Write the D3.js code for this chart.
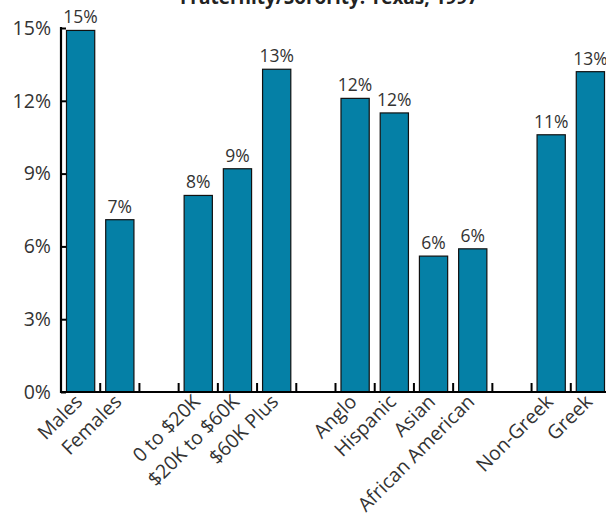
<!DOCTYPE html>
<html>
<head>
<meta charset="utf-8">
<script src="https://cdn.jsdelivr.net/npm/d3@7/dist/d3.min.js"></script>
<style>
  html, body { margin: 0; padding: 0; background: #fff; }
  svg { display: block; }
  text { font-family: "Open Sans", Lato, sans-serif; }
</style>
</head>
<body>
<svg id="chart" width="606" height="519"></svg>
<script>
const title = "Fraternity/Sorority: Texas, 1997";
// Categories in display order; "" marks an empty slot between groups
const categories = ["Males", "Females", "", "0 to $20K", "$20K to $60K", "$60K Plus", "",
  "Anglo", "Hispanic", "Asian", "African American", "", "Non-Greek", "Greek"];
const values = [14.9, 7.1, null, 8.1, 9.2, 13.3, null, 12.1, 11.5, 5.6, 5.9, null, 10.6, 13.2];
const yTicks = [0, 3, 6, 9, 12, 15];

const svg = d3.select("#chart");
const x0 = 61, x1 = 610, yBase = 392, yTop = 28;
const FONT = "'Open Sans', Lato, sans-serif";

const slots = categories.map((c, i) => i);
const x = d3.scaleBand().domain(slots).range([x0, x1]).paddingInner(0.28).paddingOuter(0.14);
const y = d3.scaleLinear().domain([0, 15]).range([yBase, yTop]);

// Title (partially cut off at top as in reference)
svg.append("text")
  .attr("x", 329).attr("y", 4)
  .attr("text-anchor", "middle")
  .attr("font-size", 19).attr("font-weight", "bold")
  .attr("fill", "#222")
  .text(title);

// Bars
const data = categories.map((c, i) => ({ c, i, v: values[i] })).filter(d => d.v != null);
svg.append("g").selectAll("rect").data(data).join("rect")
  .attr("x", d => x(d.i))
  .attr("y", d => y(d.v))
  .attr("width", x.bandwidth())
  .attr("height", d => y(0) - y(d.v))
  .attr("fill", "#0580a6")
  .attr("stroke", "#111")
  .attr("stroke-width", 1.2);

// Value labels
svg.append("g").selectAll("text").data(data).join("text")
  .attr("x", d => x(d.i) + x.bandwidth() / 2)
  .attr("y", d => y(d.v) - 7)
  .attr("text-anchor", "middle")
  .attr("font-size", 17.5)
  .attr("fill", "#333")
  .text(d => Math.round(d.v) + "%");

// Y axis
const yAxis = d3.axisLeft(y).tickValues(yTicks).tickSize(-5).tickPadding(10)
  .tickFormat(d => d + "%");
const gy = svg.append("g").attr("transform", `translate(${x0},0)`).call(yAxis);
gy.select(".domain").remove();
gy.selectAll(".tick line").attr("stroke", "#000").attr("stroke-width", 2);
gy.selectAll(".tick text").attr("font-size", 19.5).attr("fill", "#333")
  .style("font-family", FONT);
svg.append("line").attr("x1", x0).attr("x2", x0).attr("y1", yTop - 1).attr("y2", yBase + 1)
  .attr("stroke", "#000").attr("stroke-width", 2.2);

// X axis line
svg.append("line").attr("x1", x0 - 1).attr("x2", 606).attr("y1", yBase).attr("y2", yBase)
  .attr("stroke", "#000").attr("stroke-width", 2.2);

// Slot boundary ticks (pointing up)
const step = x.step();
const bounds = d3.range(1, categories.length + 1).map(k => x0 + k * step);
svg.append("g").selectAll("line").data(bounds).join("line")
  .attr("x1", d => d).attr("x2", d => d)
  .attr("y1", yBase).attr("y2", yBase - 9)
  .attr("stroke", "#000").attr("stroke-width", 2);

// Category labels rotated -45°
svg.append("g").selectAll("text").data(categories.map((c, i) => ({ c, i })).filter(d => d.c))
  .join("text")
  .attr("transform", d => `translate(${x(d.i) + x.bandwidth() / 2 + 3},${yBase + 11}) rotate(-45)`)
  .attr("text-anchor", "end")
  .attr("font-size", 19.5)
  .attr("fill", "#333")
  .text(d => d.c);
</script>
</body>
</html>
